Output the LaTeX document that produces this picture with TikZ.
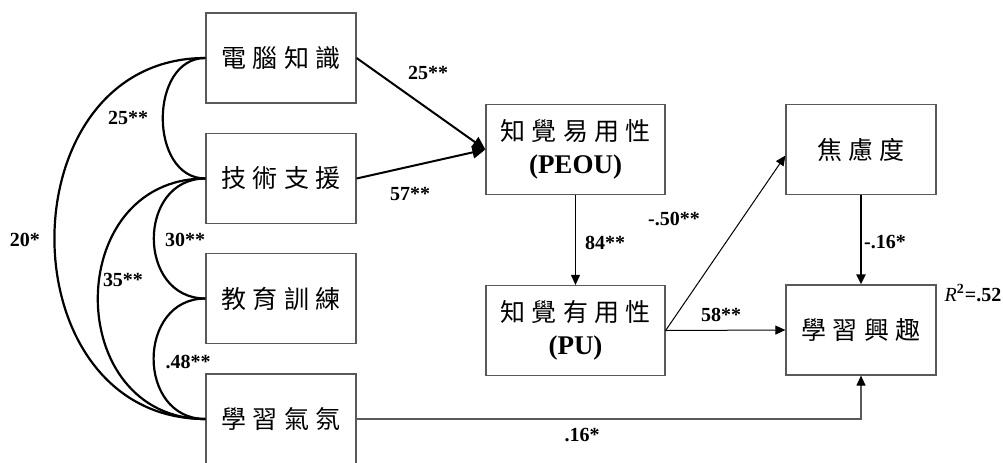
\documentclass[tikz,border=0pt]{standalone}
\usepackage{fontspec}
\setmainfont{Liberation Serif}
\newfontfamily\cjk[LetterSpace=25]{Noto Sans CJK TC}
\usetikzlibrary{arrows.meta}

\begin{document}
\begin{tikzpicture}[x=0.5pt,y=-0.5pt,>={Triangle[length=5pt,width=4.5pt]},
    box/.style={draw=black!65,line width=0.6pt,minimum width=75pt,minimum height=45pt,
      inner sep=0pt,align=center,font=\cjk\fontsize{12.5}{16.5}\selectfont},
    coef/.style={inner sep=0pt,font=\bfseries\fontsize{10}{12}\selectfont},
    corr/.style={line width=1.1pt,out=180,in=180}]
  \useasboundingbox (0,0) rectangle (1003,462);
  % boxes
  \node[box] (comp) at (281,58)    {電腦知識};
  \node[box] (tech) at (281,178.5) {技術支援};
  \node[box] (edu)  at (281,298.5) {教育訓練};
  \node[box] (atm)  at (281,419)   {學習氣氛};
  \node[box,minimum width=89.5pt] (peou) at (575.5,149.5)
        {知覺易用性\\{\rmfamily\bfseries\fontsize{13.5}{16.5}\selectfont (PEOU)}};
  \node[box,minimum width=89.5pt] (pu) at (575.5,330.5)
        {知覺有用性\\{\rmfamily\bfseries\fontsize{13.5}{16.5}\selectfont (PU)}};
  \node[box] (anx) at (861,149.5) {焦慮度};
  \node[box] (int) at (861,330)   {學習興趣};
  % correlations
  \draw[corr,looseness=1.21] (comp.west) to (tech.west);
  \draw[corr,looseness=1.43] (comp.west) to (atm.west);
  \draw[corr,looseness=1.47] (tech.west) to (edu.west);
  \draw[corr,looseness=1.53] (tech.west) to (atm.west);
  \draw[corr,looseness=1.47] (edu.west) to (atm.west);
  % paths
  \draw[->,line width=1pt,>={Triangle[length=6.5pt,width=6pt]}] (comp.east) -- (peou.west);
  \draw[->,line width=1pt,>={Triangle[length=6.5pt,width=6pt]}] (tech.east) -- (peou.west);
  \draw[->,line width=0.5pt] (peou) -- (pu);
  \draw[->,line width=0.5pt] (pu.east) -- ([yshift=-3pt]anx.west);
  \draw[->,line width=0.5pt] (pu.east) -- (int.west);
  \draw[->,line width=1pt] (anx) -- (int);
  \draw[-{Triangle[length=5pt,width=4.5pt,color=black]},line width=0.6pt,draw=black!65]
        (atm.east) -| (int.south);
  % coefficients
  \node[coef] (k1) at (428,73)  {25**};
  \node[coef] (k2) at (410,194) {57**};
  \node[coef] (r1) at (128,118) {25**};
  \node[coef] (r2) at (25,240)  {20*};
  \node[coef] (r3) at (185,240) {30**};
  \node[coef] (r4) at (123,280) {35**};
  \node[coef] (r5) at (188,362) {.48**};
  \node[coef] (k3) at (605,243) {84**};
  \node[coef] (k4) at (674,219) {-.50**};
  \node[coef] (k5) at (721,315) {58**};
  \node[coef] (k6) at (885,242) {-.16*};
  \node[coef] (k7) at (582,435) {.16*};
  \node[coef] (rsq) at (973,293) {\textmd{\textit{R}}\textsuperscript{2}=.52};
\end{tikzpicture}
\end{document}
